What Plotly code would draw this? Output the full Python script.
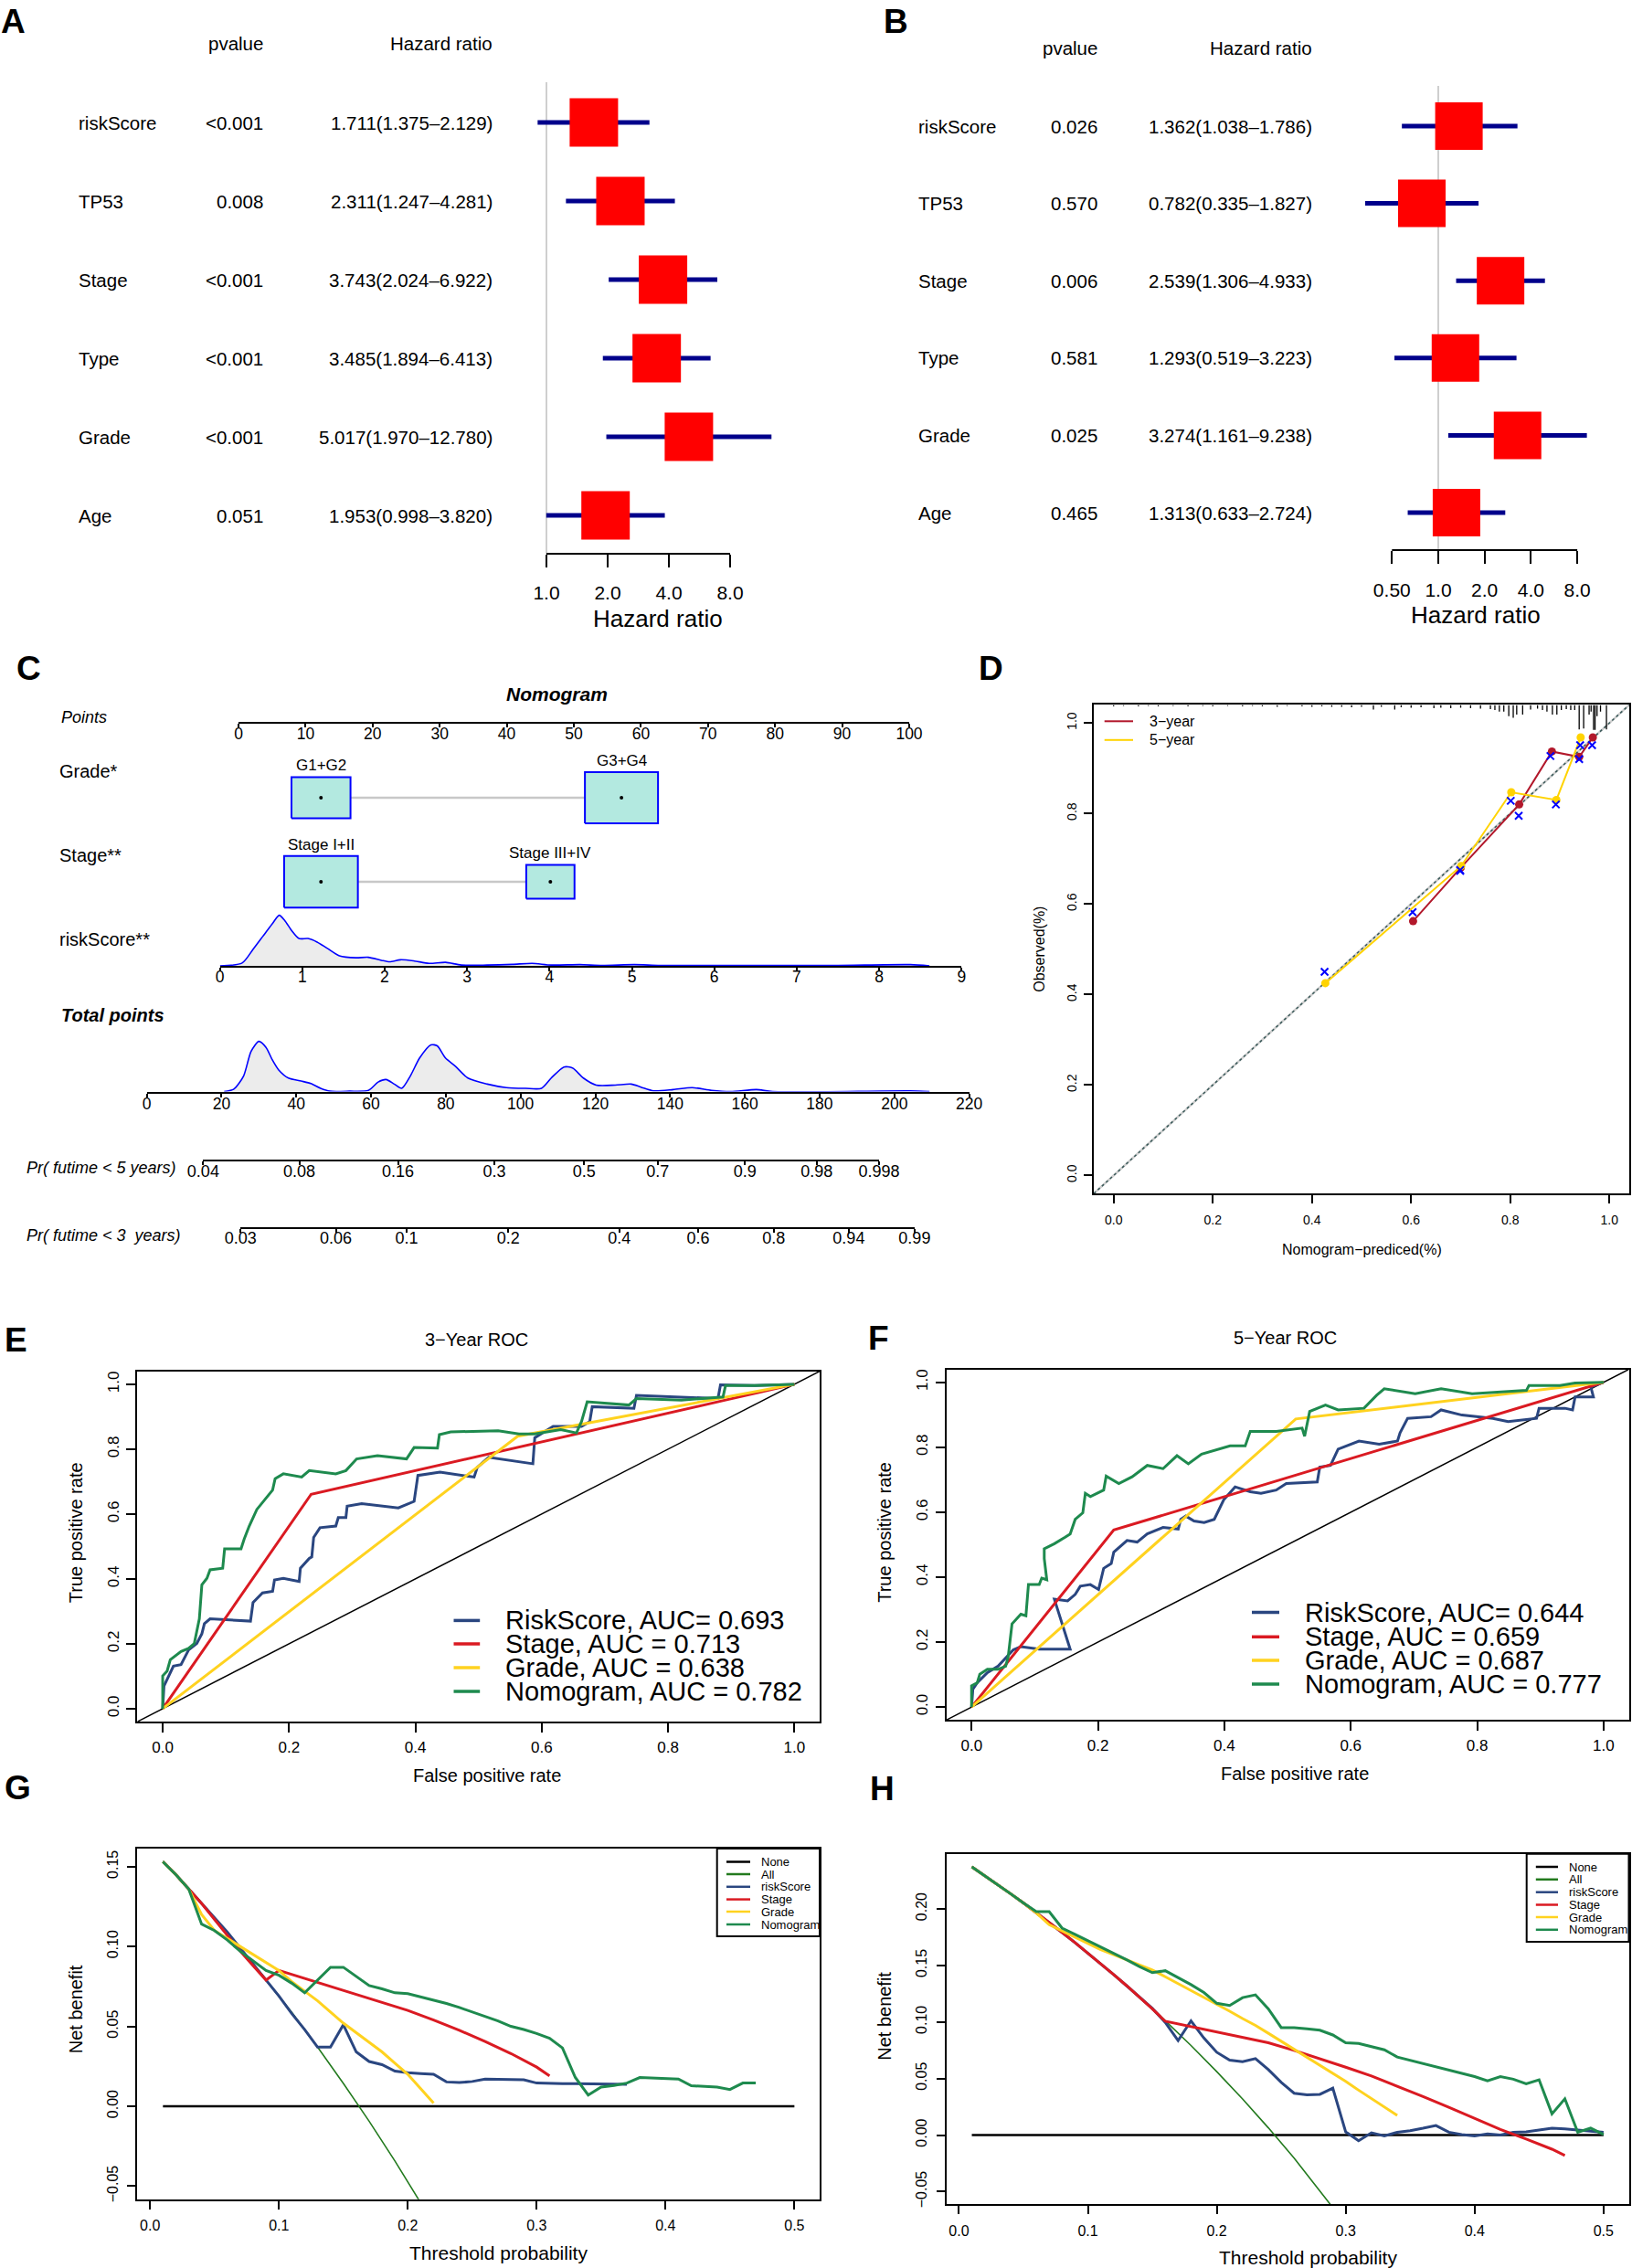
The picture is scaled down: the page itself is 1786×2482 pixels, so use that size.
import math
import plotly.graph_objects as go

W, H = 1786, 2482
FONT = "Liberation Sans, Arial, Helvetica, sans-serif"

# ======================= DATA =======================
# ---- Panel A: univariate Cox ----
uni_vars = ["riskScore", "TP53", "Stage", "Type", "Grade", "Age"]
uni_p = ["&lt;0.001", "0.008", "&lt;0.001", "&lt;0.001", "&lt;0.001", "0.051"]
uni_hr_txt = ["1.711(1.375–2.129)", "2.311(1.247–4.281)", "3.743(2.024–6.922)",
              "3.485(1.894–6.413)", "5.017(1.970–12.780)", "1.953(0.998–3.820)"]
uni_hr = [1.711, 2.311, 3.743, 3.485, 5.017, 1.953]
uni_lo = [0.905, 1.247, 2.024, 1.894, 1.970, 0.998]
uni_hi = [3.21, 4.281, 6.922, 6.413, 12.780, 3.820]
uni_ticks = [1, 2, 4, 8]
uni_tick_txt = ["1.0", "2.0", "4.0", "8.0"]

# ---- Panel B: multivariate Cox ----
multi_vars = ["riskScore", "TP53", "Stage", "Type", "Grade", "Age"]
multi_p = ["0.026", "0.570", "0.006", "0.581", "0.025", "0.465"]
multi_hr_txt = ["1.362(1.038–1.786)", "0.782(0.335–1.827)", "2.539(1.306–4.933)",
                "1.293(0.519–3.223)", "3.274(1.161–9.238)", "1.313(0.633–2.724)"]
multi_hr = [1.362, 0.782, 2.539, 1.293, 3.274, 1.313]
multi_lo = [0.58, 0.335, 1.306, 0.519, 1.161, 0.633]
multi_hi = [3.27, 1.827, 4.933, 3.223, 9.238, 2.724]
multi_ticks = [0.5, 1, 2, 4, 8]
multi_tick_txt = ["0.50", "1.0", "2.0", "4.0", "8.0"]

# ---- Panel C: nomogram ----
points_ticks = [0, 10, 20, 30, 40, 50, 60, 70, 80, 90, 100]
grade_levels = ["G1+G2", "G3+G4"]
grade_points = [12.3, 57.1]
grade_box = [8.8, 10.9]
stage_levels = ["Stage I+II", "Stage III+IV"]
stage_points = [12.3, 46.5]
stage_box = [11.0, 7.2]
risk_ticks = [0, 1, 2, 3, 4, 5, 6, 7, 8, 9]
rs_x = [0, 0.27, 0.40, 0.52, 0.64, 0.72, 0.79, 0.87, 0.96, 1.07,
        1.18, 1.30, 1.45, 1.65, 1.80, 1.96, 2.06, 2.19, 2.35, 2.54,
        2.74, 2.93, 3.24, 3.55, 3.79, 4.02, 4.37, 4.64, 5.03, 5.34,
        5.89, 7.44, 8.38, 8.61]
rs_d = [0, 0.056, 0.32, 0.58, 0.84, 1.0, 0.89, 0.70, 0.54, 0.54,
        0.47, 0.35, 0.20, 0.16, 0.17, 0.11, 0.08, 0.12, 0.10, 0.05,
        0.07, 0.016, 0.016, 0.03, 0.05, 0.016, 0.024, 0.008, 0.024, 0.008,
        0.008, 0.008, 0.024, 0]
total_ticks = [0, 20, 40, 60, 80, 100, 120, 140, 160, 180, 200, 220]
tp_x = [20.7, 23.3, 25.9, 27.9, 30.0, 31.9, 33.6, 35.3, 37.9, 41.3,
        43.9, 46.5, 49.0, 54.2, 59.3, 61.9, 64.0, 66.2, 68.2, 70.5,
        73.0, 76.0, 77.7, 79.9, 82.5, 85.9, 91.1, 96.2, 101.3, 105.6,
        108.2, 111.6, 113.9, 116.8, 120.2, 125.3, 129.6, 132.2, 135.6, 140.8,
        145.9, 151.1, 156.2, 163.1, 167.4, 204.2, 209.4]
tp_d = [0, 0.05, 0.31, 0.80, 1.0, 0.88, 0.63, 0.43, 0.27, 0.21,
        0.16, 0.065, 0.008, 0.008, 0.024, 0.19, 0.24, 0.15, 0.065, 0.31,
        0.67, 0.93, 0.91, 0.67, 0.51, 0.27, 0.15, 0.08, 0.065, 0.065,
        0.27, 0.49, 0.47, 0.27, 0.13, 0.13, 0.15, 0.09, 0.016, 0.04,
        0.08, 0.024, 0, 0.04, 0, 0.016, 0]
pr5_labels = ["0.04", "0.08", "0.16", "0.3", "0.5", "0.7", "0.9", "0.98", "0.998"]
pr5_points = [15.1, 40.8, 67.2, 93.0, 117.0, 136.7, 160.0, 179.2, 195.9]
pr3_labels = ["0.03", "0.06", "0.1", "0.2", "0.4", "0.6", "0.8", "0.94", "0.99"]
pr3_points = [25.1, 50.6, 69.5, 96.7, 126.4, 147.5, 167.7, 187.8, 205.4]

# ---- Panel D: calibration ----
cal3_pred = [0.604, 0.700, 0.818, 0.884, 0.939, 0.9665]
cal3_obs = [0.562, 0.680, 0.820, 0.937, 0.925, 0.968]
cal3_bc_pred = [0.603, 0.699, 0.817, 0.881, 0.939, 0.965]
cal3_bc_obs = [0.582, 0.673, 0.795, 0.927, 0.920, 0.951]
cal5_pred = [0.427, 0.701, 0.802, 0.893, 0.942]
cal5_obs = [0.425, 0.684, 0.847, 0.830, 0.968]
cal5_bc_pred = [0.4255, 0.699, 0.801, 0.892, 0.941]
cal5_bc_obs = [0.450, 0.675, 0.828, 0.820, 0.951]
rug_pred = [0.0, 0.02, 0.05, 0.07, 0.09, 0.12, 0.15, 0.18, 0.20, 0.23,
            0.26, 0.28, 0.30, 0.33, 0.35, 0.38, 0.40, 0.42, 0.44, 0.46,
            0.48, 0.50, 0.524, 0.54, 0.567, 0.58, 0.60, 0.62, 0.646, 0.66,
            0.68, 0.70, 0.72, 0.74, 0.760, 0.769, 0.778, 0.787, 0.797, 0.806,
            0.813, 0.825, 0.841, 0.855, 0.865, 0.874, 0.885, 0.894, 0.903, 0.913,
            0.922, 0.930, 0.939, 0.948, 0.959, 0.963, 0.968, 0.971, 0.975, 0.982,
            0.994]
rug_freq = [1.5, 1, 1.5, 1, 1.5, 1, 1.5, 1, 1.5, 1,
            1.5, 1, 1.5, 2, 1, 1.5, 2, 1.5, 2, 2,
            2.5, 2, 5, 2, 5, 2.5, 3, 2.5, 3.5, 3,
            3.5, 3, 3.5, 4, 4.7, 5.7, 7.3, 7.3, 12.3, 14,
            10.7, 10.7, 5, 4, 5.7, 7.3, 10.7, 10.7, 5.7, 4.7,
            5.7, 5.7, 26.7, 25.7, 10.7, 7.3, 27.3, 27.3, 12.3, 7.3,
            26.7]

# ---- Panel E: 3-year ROC ----
roc3_risk_fpr = [0, 0.002, 0.017, 0.029, 0.041, 0.054, 0.062, 0.066, 0.075, 0.100,
                 0.139, 0.143, 0.158, 0.174, 0.177, 0.191, 0.216, 0.218, 0.232, 0.236,
                 0.239, 0.249, 0.274, 0.278, 0.290, 0.292, 0.315, 0.373, 0.398, 0.404,
                 0.439, 0.493, 0.498, 0.516, 0.564, 0.586, 0.589, 0.618, 0.663, 0.676,
                 0.680, 0.746, 0.750, 0.804, 0.879, 0.883, 0.937, 1.0]
roc3_risk_tpr = [0, 0.070, 0.131, 0.136, 0.181, 0.201, 0.231, 0.262, 0.277, 0.274,
                 0.270, 0.327, 0.357, 0.362, 0.397, 0.402, 0.392, 0.433, 0.463, 0.468,
                 0.528, 0.558, 0.563, 0.589, 0.589, 0.624, 0.632, 0.619, 0.639, 0.719,
                 0.729, 0.714, 0.744, 0.775, 0.760, 0.755, 0.835, 0.870, 0.870, 0.885,
                 0.931, 0.926, 0.966, 0.961, 0.956, 0.998, 0.996, 1.0]
roc3_stage_fpr = [0, 0.235, 0.888, 1.0]
roc3_stage_tpr = [0, 0.661, 0.950, 1.0]
roc3_grade_fpr = [0, 0.562, 1.0]
roc3_grade_tpr = [0, 0.840, 1.0]
roc3_nomo_fpr = [0, 0, 0.007, 0.012, 0.029, 0.041, 0.050, 0.054, 0.058, 0.062,
                 0.070, 0.075, 0.095, 0.098, 0.124, 0.129, 0.137, 0.149, 0.166, 0.174,
                 0.178, 0.191, 0.220, 0.232, 0.274, 0.290, 0.307, 0.340, 0.386, 0.398,
                 0.435, 0.438, 0.456, 0.531, 0.564, 0.589, 0.630, 0.655, 0.663, 0.672,
                 0.738, 0.750, 0.821, 0.887, 0.891, 0.937, 1.0]
roc3_nomo_tpr = [0, 0.101, 0.116, 0.151, 0.176, 0.186, 0.201, 0.241, 0.277, 0.382,
                 0.402, 0.428, 0.433, 0.493, 0.493, 0.523, 0.563, 0.614, 0.654, 0.674,
                 0.709, 0.724, 0.714, 0.734, 0.724, 0.734, 0.770, 0.780, 0.770, 0.805,
                 0.803, 0.845, 0.853, 0.857, 0.847, 0.847, 0.860, 0.850, 0.885, 0.946,
                 0.936, 0.956, 0.951, 0.961, 0.996, 0.996, 1.0]
roc3_labels = ["RiskScore, AUC= 0.693", "Stage, AUC = 0.713", "Grade, AUC = 0.638", "Nomogram, AUC = 0.782"]

# ---- Panel F: 5-year ROC ----
roc5_risk_fpr = [0, 0.002, 0.009, 0.025, 0.042, 0.058, 0.066, 0.078, 0.107, 0.156,
                 0.131, 0.152, 0.164, 0.172, 0.188, 0.201, 0.209, 0.221, 0.225, 0.246,
                 0.262, 0.278, 0.303, 0.327, 0.331, 0.339, 0.352, 0.368, 0.384, 0.399,
                 0.417, 0.441, 0.458, 0.482, 0.498, 0.547, 0.551, 0.568, 0.580, 0.613,
                 0.645, 0.674, 0.678, 0.690, 0.727, 0.743, 0.776, 0.825, 0.849, 0.894,
                 0.898, 0.939, 0.951, 0.955, 0.984, 0.980, 1.0]
roc5_risk_tpr = [0, 0.055, 0.075, 0.106, 0.126, 0.161, 0.176, 0.186, 0.178, 0.178,
                 0.332, 0.327, 0.347, 0.372, 0.377, 0.362, 0.427, 0.442, 0.477, 0.513,
                 0.508, 0.533, 0.553, 0.548, 0.578, 0.588, 0.573, 0.568, 0.578, 0.638,
                 0.678, 0.663, 0.658, 0.668, 0.688, 0.693, 0.739, 0.744, 0.794, 0.819,
                 0.809, 0.819, 0.844, 0.889, 0.894, 0.915, 0.899, 0.889, 0.879, 0.889,
                 0.920, 0.920, 0.915, 0.955, 0.955, 0.985, 1.0]
roc5_stage_fpr = [0, 0.225, 1.0]
roc5_stage_tpr = [0, 0.545, 1.0]
roc5_grade_fpr = [0, 0.513, 1.0]
roc5_grade_tpr = [0, 0.887, 1.0]
roc5_nomo_fpr = [0, 0, 0.009, 0.013, 0.025, 0.042, 0.054, 0.058, 0.064, 0.078,
                 0.086, 0.090, 0.107, 0.111, 0.119, 0.115, 0.115, 0.131, 0.148, 0.156,
                 0.164, 0.176, 0.180, 0.188, 0.209, 0.213, 0.233, 0.254, 0.278, 0.303,
                 0.325, 0.343, 0.364, 0.409, 0.433, 0.441, 0.482, 0.523, 0.527, 0.535,
                 0.560, 0.580, 0.621, 0.641, 0.653, 0.702, 0.743, 0.792, 0.878, 0.882,
                 0.931, 0.955, 1.0]
roc5_nomo_tpr = [0, 0.065, 0.075, 0.101, 0.116, 0.116, 0.126, 0.156, 0.256, 0.286,
                 0.281, 0.377, 0.377, 0.397, 0.392, 0.457, 0.487, 0.503, 0.523, 0.533,
                 0.578, 0.598, 0.658, 0.648, 0.668, 0.711, 0.688, 0.709, 0.744, 0.734,
                 0.774, 0.749, 0.779, 0.804, 0.804, 0.849, 0.849, 0.859, 0.834, 0.910,
                 0.930, 0.915, 0.920, 0.960, 0.980, 0.965, 0.980, 0.965, 0.975, 0.990,
                 0.990, 0.998, 1.0]
roc5_labels = ["RiskScore, AUC= 0.644", "Stage, AUC = 0.659", "Grade, AUC = 0.687", "Nomogram, AUC = 0.777"]

# ---- Panels G/H: decision curves ----
thresholds = [round(0.01 * i, 2) for i in range(1, 51)]
dca_legend = ["None", "All", "riskScore", "Stage", "Grade", "Nomogram"]

dcaG_all_x = [0.01, 0.03, 0.05, 0.07, 0.09, 0.11, 0.13, 0.15, 0.17, 0.19, 0.21]
dcaG_all = [0.1535, 0.136, 0.118, 0.099, 0.079, 0.0587, 0.037, 0.0143, -0.0094, -0.0343, -0.0605]
dcaG_risk = [0.153, 0.145, 0.136, 0.127, 0.118, 0.109, 0.099, 0.089, 0.079, 0.069,
             0.058, 0.048, 0.037, 0.037, 0.051, 0.034, 0.028, 0.026, 0.022, 0.021,
             0.0205, 0.020, 0.0152, 0.0148, 0.0155, 0.0170, 0.0168, 0.0166, 0.0165, 0.0145,
             0.0142, 0.0142, 0.0141, 0.0140, 0.0138, 0.0137, 0.0137]
dcaG_stage_x = [0.01, 0.02, 0.03, 0.04, 0.05, 0.06, 0.07, 0.08, 0.09, 0.10,
                0.12, 0.14, 0.16, 0.18, 0.20, 0.22, 0.24, 0.26, 0.28, 0.30, 0.31]
dcaG_stage = [0.153, 0.145, 0.136, 0.127, 0.117, 0.107, 0.097, 0.088, 0.079, 0.085,
              0.080, 0.075, 0.070, 0.065, 0.060, 0.054, 0.0475, 0.0405, 0.033, 0.0245, 0.019]
dcaG_grade = [0.153, 0.145, 0.136, 0.120, 0.110, 0.105, 0.100, 0.095, 0.090, 0.085,
              0.078, 0.072, 0.066, 0.059, 0.052, 0.046, 0.040, 0.034, 0.027, 0.020,
              0.011, 0.002]
dcaG_nomo = [0.153, 0.145, 0.136, 0.114, 0.110, 0.104, 0.097, 0.091, 0.085, 0.082,
             0.077, 0.071, 0.079, 0.087, 0.087, 0.081, 0.0755, 0.0735, 0.071, 0.0705,
             0.0685, 0.0665, 0.0643, 0.0618, 0.059, 0.0566, 0.0534, 0.050, 0.048, 0.0455,
             0.0425, 0.0365, 0.018, 0.007, 0.012, 0.013, 0.0145, 0.018, 0.0178, 0.0175,
             0.017, 0.0128, 0.0125, 0.012, 0.0105, 0.0145, 0.0145]

dcaH_all_x = [0.01, 0.02, 0.03, 0.04, 0.05, 0.06, 0.07, 0.08, 0.09, 0.10, 0.11, 0.12,
              0.13, 0.14, 0.15, 0.16, 0.18, 0.20, 0.22, 0.24, 0.26, 0.28, 0.30]
dcaH_all = [0.2372, 0.2295, 0.2216, 0.2134, 0.2052, 0.1967, 0.1880, 0.1792, 0.1702, 0.1610,
            0.1516, 0.1419, 0.1321, 0.1220, 0.1116, 0.1011, 0.0792, 0.0561, 0.0319, 0.0064,
            -0.0204, -0.0488, -0.0787]
dcaH_risk = [0.2372, 0.2295, 0.2216, 0.2134, 0.2052, 0.1967, 0.1880, 0.1792, 0.1702, 0.1610,
             0.1516, 0.1419, 0.1321, 0.1220, 0.1120, 0.0997, 0.0835, 0.1010, 0.0858, 0.0732,
             0.0662, 0.0648, 0.0676, 0.0578, 0.0466, 0.0370, 0.0355, 0.0360, 0.0415, 0.0028,
             -0.0050, 0.0020, -0.0008, 0.0025, 0.0039, 0.0060, 0.0084, 0.0025, 0.0005, -0.0008,
             0.0011, 0.0000, 0.0025, 0.0028, 0.0045, 0.0060, 0.0055, 0.0047, 0.0035, 0.0025]
dcaH_stage_x = [0.01, 0.02, 0.03, 0.04, 0.05, 0.06, 0.07, 0.08, 0.09, 0.10, 0.11, 0.12,
                0.13, 0.14, 0.15, 0.16, 0.18, 0.20, 0.22, 0.24, 0.26, 0.28, 0.30, 0.32,
                0.34, 0.36, 0.38, 0.40, 0.42, 0.44, 0.46, 0.47]
dcaH_stage = [0.2372, 0.2295, 0.2216, 0.2134, 0.2052, 0.1967, 0.1880, 0.1792, 0.1702, 0.1610,
              0.1516, 0.1419, 0.1321, 0.1220, 0.1116, 0.1006, 0.0960, 0.0913, 0.0865, 0.0816,
              0.0748, 0.0676, 0.0600, 0.0522, 0.0433, 0.0340, 0.0245, 0.0145, 0.0050, -0.0035,
              -0.0125, -0.0180]
dcaH_grade = [0.2372, 0.2295, 0.2216, 0.2134, 0.2052, 0.1965, 0.186, 0.1805, 0.175, 0.1695,
              0.164, 0.1595, 0.155, 0.1505, 0.146, 0.140, 0.134, 0.128, 0.122, 0.116,
              0.1095, 0.103, 0.097, 0.090, 0.083, 0.076, 0.069, 0.062, 0.055, 0.0475,
              0.0397, 0.032, 0.0247, 0.0173]
dcaH_nomo = [0.2372, 0.2295, 0.2216, 0.2134, 0.2052, 0.1975, 0.1975, 0.183, 0.1775, 0.172,
             0.1665, 0.161, 0.155, 0.149, 0.1436, 0.1453, 0.139, 0.133, 0.126, 0.1165,
             0.1145, 0.1215, 0.124, 0.1115, 0.095, 0.095, 0.094, 0.0927, 0.0885, 0.0816,
             0.081, 0.0782, 0.0754, 0.069, 0.0662, 0.0634, 0.0606, 0.0578, 0.055, 0.0517,
             0.048, 0.0517, 0.0494, 0.0453, 0.0489, 0.0187, 0.0321, 0.0025, 0.0061, 0.0006]

# ======================= STYLE =======================
C_NAVY = "#2A4680"
C_RED = "#DA1A22"
C_YEL = "#FFD21F"
C_GRN = "#1E8A4E"
C_ALL = "#237A1E"
C_CAL3 = "#B2182B"
C_CAL5 = "#FFD300"


def X(px):
    return px / W


def Y(py):
    return 1 - py / H


def axn(k, n):
    return f"{k}axis" if n == 1 else f"{k}axis{n}"


def axr(k, n):
    return k if n == 1 else f"{k}{n}"


layout = dict(width=W, height=H, margin=dict(l=0, r=0, t=0, b=0, pad=0), autosize=False,
              template="none", paper_bgcolor="white", plot_bgcolor="rgba(0,0,0,0)",
              showlegend=False, font=dict(family=FONT, color="black"))
annotations = []
shapes = []
traces = []


def text(x, y, s, size, xanchor="left", yanchor="middle", angle=0, xref="paper", yref="paper", yshift=0):
    annotations.append(dict(x=x, y=y, xref=xref, yref=yref, text=s, showarrow=False,
                            font=dict(size=size, family=FONT, color="black"),
                            xanchor=xanchor, yanchor=yanchor, textangle=angle, yshift=yshift))


def line_trace(n, x, y, color, width, dash=None, shape="linear", mode="lines"):
    traces.append(go.Scatter(x=x, y=y, mode=mode, xaxis=axr("x", n), yaxis=axr("y", n),
                             line=dict(color=color, width=width, dash=dash, shape=shape),
                             hoverinfo="skip", showlegend=False))


def dummy(n, xv):
    traces.append(go.Scatter(x=[xv], y=[0], mode="markers", marker=dict(opacity=0),
                             xaxis=axr("x", n), yaxis=axr("y", n), hoverinfo="skip", showlegend=False))


def hidden_axis(**kw):
    d = dict(visible=False, automargin=False, showgrid=False, zeroline=False)
    d.update(kw)
    return d


# panel letters
for lab, cx, cy in [("A", 14, 23), ("B", 980, 23), ("C", 31.5, 731), ("D", 1084, 731),
                    ("E", 17, 1466), ("F", 961, 1464), ("G", 19.5, 1956), ("H", 965.5, 1957)]:
    text(X(cx), Y(cy), "<b>%s</b>" % lab, 37, xanchor="center")


# ======================= FOREST PLOTS =======================
def forest(n, names, pvals, hrtxt, hr, lo, hi, xdom, hr1_px, ppd, row0, step, ytop, yaxis_px,
           col_lab, col_p, col_hr, head_y, tickvals, ticktext, title_xy, box, std):
    l2 = math.log10(2)
    xr = [(xdom[0] - hr1_px) / ppd * l2, (xdom[1] - hr1_px) / ppd * l2]
    yr = [(yaxis_px - row0) / step, (ytop - row0) / step]
    layout[axn("x", n)] = dict(domain=[X(xdom[0]), X(xdom[1])], type="log", range=xr,
                               anchor=axr("y", n), tickvals=tickvals, ticktext=ticktext,
                               ticks="outside", ticklen=14, tickwidth=2, tickcolor="black",
                               showline=False, showgrid=False, zeroline=False, automargin=False,
                               tickfont=dict(size=21), ticklabelstandoff=std)
    layout[axn("y", n)] = hidden_axis(domain=[Y(yaxis_px), Y(ytop)], range=yr, anchor=axr("x", n))
    rows = list(range(len(names)))
    shapes.append(dict(type="line", xref=axr("x", n), yref="paper", x0=1, x1=1,
                       y0=Y(yaxis_px), y1=Y(ytop), line=dict(color="#CFCFCF", width=2), layer="below"))
    shapes.append(dict(type="line", xref=axr("x", n), yref="paper", x0=tickvals[0], x1=tickvals[-1],
                       y0=Y(yaxis_px), y1=Y(yaxis_px), line=dict(color="black", width=2)))
    cx, cy = [], []
    for i in rows:
        cx += [lo[i], hi[i], None]
        cy += [i, i, None]
    line_trace(n, cx, cy, "#00008B", 5)
    traces.append(go.Scatter(x=hr, y=rows, mode="markers", xaxis=axr("x", n), yaxis=axr("y", n),
                             marker=dict(symbol="square", size=box, color="#FF0000", line=dict(width=0)),
                             hoverinfo="skip", showlegend=False))
    for i in rows:
        text(X(col_lab), i, names[i], 20.5, yref=axr("y", n))
        text(X(col_p), i, pvals[i], 20.5, xanchor="right", yref=axr("y", n))
        text(X(col_hr), i, hrtxt[i], 20.5, xanchor="right", yref=axr("y", n))
    text(X(col_p), Y(head_y), "pvalue", 20.5, xanchor="right")
    text(X(col_hr), Y(head_y), "Hazard ratio", 20.5, xanchor="right")
    text(X(title_xy[0]), Y(title_xy[1]), "Hazard ratio", 26, xanchor="center")


forest(1, uni_vars, uni_p, uni_hr_txt, uni_hr, uni_lo, uni_hi, (560, 872), 598, 67, 134, 86, 90, 606,
       84, 290, 541, 48, uni_ticks, uni_tick_txt, (720, 677), 53, 10)
forest(2, multi_vars, multi_p, multi_hr_txt, multi_hr, multi_lo, multi_hi, (1488, 1765), 1574, 50.7,
       138, 84.6, 94, 602, 1003, 1203, 1438, 53, multi_ticks, multi_tick_txt, (1615, 673), 52, 11)

# ======================= NOMOGRAM =======================
PTS0, PTS1 = 261, 995
PX_PER_PT = (PTS1 - PTS0) / 100
KY = 1 / (0.7 * PX_PER_PT)
TP0, TP1 = 160.6, 1060.6
TP_PX = (TP1 - TP0) / 220

nomo_axis = dict(showline=True, linewidth=2, linecolor="black", ticks="outside", ticklen=4,
                 tickwidth=1.5, tickcolor="black", showgrid=False, zeroline=False,
                 automargin=False, tickfont=dict(size=17.5), ticklabelstandoff=-8)

# Points scale
layout[axn("x", 3)] = dict(domain=[X(PTS0), X(PTS1)], range=[0, 100], anchor="y3",
                           tickvals=points_ticks, **nomo_axis)
layout[axn("y", 3)] = hidden_axis(domain=[Y(790), Y(780)], range=[0, 1], anchor="x3")
dummy(3, 50)


def nomo_row(n, yc, levels, pts, sizes):
    half = 48
    layout[axn("x", n)] = hidden_axis(domain=[X(PTS0), X(PTS1)], range=[0, 100], anchor=axr("y", n))
    layout[axn("y", n)] = hidden_axis(domain=[Y(yc + half), Y(yc - half)], range=[-half * KY, half * KY],
                                      anchor=axr("x", n))
    line_trace(n, [pts[0], pts[-1]], [0, 0], "#C8C8C8", 2.5)
    for p, s, lev in zip(pts, sizes, levels):
        traces.append(go.Scatter(x=[p - s / 2, p + s / 2, p + s / 2, p - s / 2, p - s / 2],
                                 y=[-s / 2, -s / 2, s / 2, s / 2, -s / 2], mode="lines",
                                 fill="toself", fillcolor="#B3E9E0",
                                 line=dict(color="#0000FF", width=2),
                                 xaxis=axr("x", n), yaxis=axr("y", n), hoverinfo="skip", showlegend=False))
        text(p, s / 2, lev, 17, xanchor="center", yanchor="bottom", xref=axr("x", n), yref=axr("y", n), yshift=1)
    traces.append(go.Scatter(x=pts, y=[0] * len(pts), mode="markers", marker=dict(color="black", size=4),
                             xaxis=axr("x", n), yaxis=axr("y", n), hoverinfo="skip", showlegend=False))


nomo_row(4, 873, grade_levels, grade_points, grade_box)
nomo_row(5, 965, stage_levels, stage_points, stage_box)

# riskScore density
ax6 = dict(nomo_axis)
ax6["ticklabelstandoff"] = -9
layout[axn("x", 6)] = dict(domain=[X(240.6), X(1052.3)], range=[0, 9], anchor="y6",
                           tickvals=risk_ticks, **ax6)
layout[axn("y", 6)] = hidden_axis(domain=[Y(1057), Y(1057 - 70)], range=[0, 70 / 55.4], anchor="x6")
traces.append(go.Scatter(x=rs_x, y=rs_d, mode="lines", fill="tozeroy", fillcolor="#ECECEC",
                         line=dict(color="#0000FF", width=1.6, shape="spline", smoothing=0.7),
                         xaxis="x6", yaxis="y6", hoverinfo="skip", showlegend=False))

# Total points density
layout[axn("x", 7)] = dict(domain=[X(TP0), X(TP1)], range=[0, 220], anchor="y7",
                           tickvals=total_ticks, **nomo_axis)
layout[axn("y", 7)] = hidden_axis(domain=[Y(1194.6), Y(1194.6 - 70)], range=[0, 70 / 55], anchor="x7")
traces.append(go.Scatter(x=tp_x, y=tp_d, mode="lines", fill="tozeroy", fillcolor="#ECECEC",
                         line=dict(color="#0000FF", width=1.6, shape="spline", smoothing=0.7),
                         xaxis="x7", yaxis="y7", hoverinfo="skip", showlegend=False))

# Probability scales (positioned on total-points scale)
for n, pts, labs, ypx in [(8, pr5_points, pr5_labels, 1269), (9, pr3_points, pr3_labels, 1342.8)]:
    d0 = TP0 + pts[0] * TP_PX
    d1 = TP0 + pts[-1] * TP_PX
    ax = dict(nomo_axis)
    ax["tickfont"] = dict(size=18)
    ax["ticklabelstandoff"] = -9
    layout[axn("x", n)] = dict(domain=[X(d0), X(d1)], range=[pts[0], pts[-1]], anchor=axr("y", n),
                               tickvals=pts, ticktext=labs, **ax)
    layout[axn("y", n)] = hidden_axis(domain=[Y(ypx), Y(ypx - 10)], range=[0, 1], anchor=axr("x", n))
    dummy(n, pts[0])

text(X(609), Y(759), "<b><i>Nomogram</i></b>", 21, xanchor="center")
text(X(64.5), Y(785), "<i>Points</i>", 18)
text(X(63), Y(844), "Grade*", 20)
text(X(63), Y(935.7), "Stage**", 20)
text(X(63), Y(1028), "riskScore**", 20)
text(X(64.5), Y(1110.7), "<b><i>Total points</i></b>", 20)
text(X(26.7), Y(1278), "<i>Pr( futime &lt; 5 years)</i>", 18)
text(X(26.7), Y(1351.7), "<i>Pr( futime &lt; 3\u00a0 years)</i>", 18)


# ======================= FRAMED PANELS =======================
def frame(n, xdom, ydom, xr, yr, xt, xtt, yt, ytt, fs, tl, xstd, ystd):
    common = dict(showline=True, mirror=True, linewidth=2, linecolor="black", ticks="outside",
                  ticklen=tl, tickwidth=1.5, tickcolor="black", showgrid=False, zeroline=False,
                  automargin=False, tickfont=dict(size=fs))
    layout[axn("x", n)] = dict(domain=[X(xdom[0]), X(xdom[1])], range=xr, anchor=axr("y", n),
                               tickvals=xt, ticktext=xtt, ticklabelstandoff=xstd, **common)
    layout[axn("y", n)] = dict(domain=[Y(ydom[1]), Y(ydom[0])], range=yr, anchor=axr("x", n),
                               tickvals=yt, ticktext=ytt, tickangle=-90, ticklabelstandoff=ystd, **common)


unit_ticks = [0, 0.2, 0.4, 0.6, 0.8, 1.0]
unit_txt = ["0.0", "0.2", "0.4", "0.6", "0.8", "1.0"]

# ---- D calibration ----
frame(10, (1197, 1783), (771.4, 1306.2), [-0.04, 1.04], [-0.04, 1.04], unit_ticks, unit_txt,
      unit_ticks, unit_txt, 14, 9, 6, 2)
line_trace(10, [-0.04, 1.04], [-0.04, 1.04], "#CFCFCF", 2.5)
line_trace(10, [-0.04, 1.04], [-0.04, 1.04], "#3A5A5A", 1.5, dash="dot")
rx, ry = [], []
for p, f in zip(rug_pred, rug_freq):
    rx += [p, p, None]
    ry += [1.04, 1.04 - f / 494.6, None]
line_trace(10, rx, ry, "black", 1.3)
traces.append(go.Scatter(x=cal3_pred, y=cal3_obs, mode="lines+markers", xaxis="x10", yaxis="y10",
                         line=dict(color=C_CAL3, width=2), marker=dict(color=C_CAL3, size=9),
                         hoverinfo="skip", showlegend=False))
traces.append(go.Scatter(x=cal3_bc_pred, y=cal3_bc_obs, mode="markers", xaxis="x10", yaxis="y10",
                         marker=dict(symbol="x-thin", size=8, line=dict(color="#0000FF", width=2)),
                         hoverinfo="skip", showlegend=False))
traces.append(go.Scatter(x=cal5_pred, y=cal5_obs, mode="lines+markers", xaxis="x10", yaxis="y10",
                         line=dict(color=C_CAL5, width=2), marker=dict(color=C_CAL5, size=9),
                         hoverinfo="skip", showlegend=False))
traces.append(go.Scatter(x=cal5_bc_pred, y=cal5_bc_obs, mode="markers", xaxis="x10", yaxis="y10",
                         marker=dict(symbol="x-thin", size=8, line=dict(color="#0000FF", width=2)),
                         hoverinfo="skip", showlegend=False))
text(X(1490), Y(1367.4), "Nomogram−prediced(%)", 16, xanchor="center")
text(X(1136.8), Y(1039), "Observed(%)", 16, xanchor="center", angle=-90)


def manual_legend(x0, x1, xt, rows, labels, colors, size, lw):
    for yy, lab, col in zip(rows, labels, colors):
        shapes.append(dict(type="line", xref="paper", yref="paper", x0=X(x0), x1=X(x1),
                           y0=Y(yy), y1=Y(yy), line=dict(color=col, width=lw)))
        text(X(xt), Y(yy), lab, size)


manual_legend(1208.7, 1240, 1255.6, [789.3, 809.8], ["3−year", "5−year"], [C_CAL3, C_CAL5], 16, 2)


# ---- E / F ROC ----
def roc_panel(n, xdom, ydom, curves, labels, title, title_xy, xt_xy, yt_xy, leg):
    frame(n, xdom, ydom, [-0.04, 1.04], [-0.04, 1.04], unit_ticks, unit_txt, unit_ticks, unit_txt,
          17, 10, 1, 2)
    line_trace(n, [-0.04, 1.04], [-0.04, 1.04], "black", 1.5)
    for fx, fy, col in curves:
        line_trace(n, fx, fy, col, 3)
    text(X(title_xy[0]), Y(title_xy[1]), title, 20, xanchor="center")
    text(X(xt_xy[0]), Y(xt_xy[1]), "False positive rate", 20, xanchor="center")
    text(X(yt_xy[0]), Y(yt_xy[1]), "True positive rate", 20, xanchor="center", angle=-90)
    manual_legend(leg[0], leg[1], leg[2], leg[3], labels, [C_NAVY, C_RED, C_YEL, C_GRN], 29, 3.5)


roc_panel(11, (150.4, 897), (1500.7, 1884.1),
          [(roc3_risk_fpr, roc3_risk_tpr, C_NAVY), (roc3_stage_fpr, roc3_stage_tpr, C_RED),
           (roc3_grade_fpr, roc3_grade_tpr, C_YEL), (roc3_nomo_fpr, roc3_nomo_tpr, C_GRN)],
          roc3_labels, "3−Year ROC", (521, 1465.7), (532.7, 1943), (83.2, 1677),
          (496.5, 525.2, 551, [1773.4, 1799, 1825, 1851]))
roc_panel(12, (1035.6, 1782.5), (1498.5, 1882.3),
          [(roc5_risk_fpr, roc5_risk_tpr, C_NAVY), (roc5_stage_fpr, roc5_stage_tpr, C_RED),
           (roc5_grade_fpr, roc5_grade_tpr, C_YEL), (roc5_nomo_fpr, roc5_nomo_tpr, C_GRN)],
          roc5_labels, "5−Year ROC", (1406.8, 1463.6), (1417, 1941.2), (967.8, 1677),
          (1370, 1400, 1425.5, [1764.5, 1791.3, 1817, 1843]))


# ---- G / H decision curves ----
def dca_panel(n, xdom, ydom, yr, yt, ytt, curves, xt_xy, yt_xy, box, leg_rows, leg_x, xstd):
    frame(n, xdom, ydom, [-0.0098, 0.5196], yr, [0, 0.1, 0.2, 0.3, 0.4, 0.5],
          ["0.0", "0.1", "0.2", "0.3", "0.4", "0.5"], yt, ytt, 16, 9, xstd, 4)
    line_trace(n, [0.01, 0.5], [0, 0], "black", 2.5)
    for cx_, cy_, col, w in curves:
        line_trace(n, cx_, cy_, col, w)
    text(X(xt_xy[0]), Y(xt_xy[1]), "Threshold probability", 21, xanchor="center")
    text(X(yt_xy[0]), Y(yt_xy[1]), "Net benefit", 20, xanchor="center", angle=-90)
    shapes.append(dict(type="rect", xref="paper", yref="paper", x0=X(box[0]), x1=X(box[2]),
                       y0=Y(box[3]), y1=Y(box[1]), line=dict(color="black", width=2), fillcolor="white"))
    manual_legend(leg_x[0], leg_x[1], leg_x[2], leg_rows, dca_legend,
                  ["black", C_ALL, C_NAVY, C_RED, C_YEL, C_GRN], 13, 2.5)


dca_panel(13, (150.4, 897), (2023, 2406.7), [-0.0582, 0.1613],
          [-0.05, 0, 0.05, 0.10, 0.15], ["−0.05", "0.00", "0.05", "0.10", "0.15"],
          [(dcaG_all_x, dcaG_all, C_ALL, 1.6),
           (thresholds[:len(dcaG_risk)], dcaG_risk, C_NAVY, 3),
           (dcaG_stage_x, dcaG_stage, C_RED, 3),
           (thresholds[:len(dcaG_grade)], dcaG_grade, C_YEL, 3),
           (thresholds[:len(dcaG_nomo)], dcaG_nomo, C_GRN, 3)],
          (545.3, 2465.5), (83, 2199.3), (784.7, 2023, 897, 2119),
          [2037.5, 2051, 2064.8, 2078.6, 2092, 2106], (795, 821, 830.6), 4)
dca_panel(14, (1035.6, 1782.5), (2028.8, 2411.9), [-0.0609, 0.2486],
          [-0.05, 0, 0.05, 0.10, 0.15, 0.20], ["−0.05", "0.00", "0.05", "0.10", "0.15", "0.20"],
          [(dcaH_all_x, dcaH_all, C_ALL, 1.6),
           (thresholds[:len(dcaH_risk)], dcaH_risk, C_NAVY, 3),
           (dcaH_stage_x, dcaH_stage, C_RED, 3),
           (thresholds[:len(dcaH_grade)], dcaH_grade, C_YEL, 3),
           (thresholds[:len(dcaH_nomo)], dcaH_nomo, C_GRN, 3)],
          (1431, 2470.7), (967.8, 2206), (1670.7, 2028.8, 1782.5, 2125),
          [2043, 2056.8, 2070.7, 2084.5, 2098, 2111.8], (1680.8, 1705, 1715), 5)

layout["annotations"] = annotations
layout["shapes"] = shapes

fig = go.Figure(data=traces, layout=layout)
fig.write_html("out.html", config={"displayModeBar": False},
               post_script="document.body.style.margin='0px';document.body.style.padding='0px';"
                           "document.body.style.overflow='hidden';")
